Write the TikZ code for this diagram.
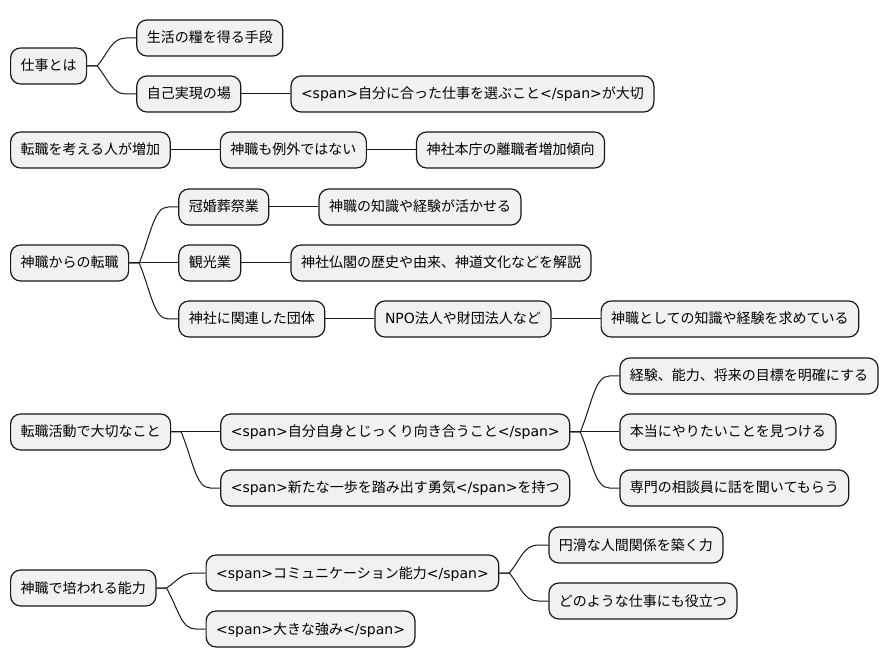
\documentclass[tikz,border=0pt]{standalone}
\usepackage{fontspec}
\setmainfont{Noto Sans CJK JP}
\newfontfamily\lat{DejaVu Sans}
\usetikzlibrary{calc}
\definecolor{boxfill}{HTML}{F1F1F1}
\definecolor{boxline}{HTML}{181818}
\newcommand\Lt[1]{{\lat #1}}
\newcommand\conn[2]{\draw[conn] let \p1=($(#1.east)+(10,0)$), \p2=($(#2.west)+(-10,0)$) in (#1.east) -- (\p1) .. controls ({\x1+0.4*(\x2-\x1)},{\y1+0.5*(\y2-\y1)}) and ({\x1+0.5*(\x2-\x1)},\y2) .. (\p2) -- (#2.west);}
\newcommand\sconn[2]{\draw[conn] (#1.east) -- (#2.west);}
\begin{document}
\begin{tikzpicture}[x=1pt,y=-1pt,
  box/.style={draw=boxline, fill=boxfill, line width=1.2pt, rounded corners=10pt,
    minimum height=36pt, inner xsep=10pt, inner ysep=0pt, text height=12pt, text depth=2pt,
    anchor=west, font=\fontsize{14}{16}\selectfont},
  child/.style={box, xshift=49pt},
  conn/.style={draw=boxline, line width=1pt}]
\fill[white] (0,0) rectangle (887,668);
\useasboundingbox (0,0) rectangle (887,668);

% group 1
\node[box] (a1) at (10,66) {仕事とは};
\node[child] (a2) at (a1.east |- 0,38) {生活の糧を得る手段};
\node[child] (a3) at (a1.east |- 0,94) {自己実現の場};
\node[child] (a4) at (a3.east) {\Lt{<span>}自分に合った仕事を選ぶこと\Lt{</span>}が大切};

% group 2
\node[box] (b1) at (10,150) {転職を考える人が増加};
\node[child] (b2) at (b1.east) {神職も例外ではない};
\node[child] (b3) at (b2.east) {神社本庁の離職者増加傾向};

% group 3
\node[box] (c1) at (10,263) {神職からの転職};
\node[child] (c2) at (c1.east |- 0,207) {冠婚葬祭業};
\node[child] (c3) at (c2.east) {神職の知識や経験が活かせる};
\node[child] (c4) at (c1.east) {観光業};
\node[child] (c5) at (c4.east) {神社仏閣の歴史や由来、神道文化などを解説};
\node[child] (c6) at (c1.east |- 0,319) {神社に関連した団体};
\node[child] (c7) at (c6.east) {\Lt{NPO}法人や財団法人など};
\node[child] (c8) at (c7.east) {神職としての知識や経験を求めている};

% group 4
\node[box] (d1) at (10,432) {転職活動で大切なこと};
\node[child] (d2) at (d1.east) {\Lt{<span>}自分自身とじっくり向き合うこと\Lt{</span>}};
\node[child] (d3) at (d1.east |- 0,488) {\Lt{<span>}新たな一歩を踏み出す勇気\Lt{</span>}を持つ};
\node[child] (d4) at (d2.east |- 0,376) {経験、能力、将来の目標を明確にする};
\node[child] (d5) at (d2.east) {本当にやりたいことを見つける};
\node[child] (d6) at (d2.east |- 0,488) {専門の相談員に話を聞いてもらう};

% group 5
\node[box] (e1) at (10,588) {神職で培われる能力};
\node[child] (e2) at (e1.east |- 0,573) {\Lt{<span>}コミュニケーション能力\Lt{</span>}};
\node[child] (e3) at (e1.east |- 0,629) {\Lt{<span>}大きな強み\Lt{</span>}};
\node[child] (e4) at (e2.east |- 0,545) {円滑な人間関係を築く力};
\node[child] (e5) at (e2.east |- 0,601) {どのような仕事にも役立つ};

\conn{a1}{a2}\conn{a1}{a3}\sconn{a3}{a4}
\sconn{b1}{b2}\sconn{b2}{b3}
\conn{c1}{c2}\sconn{c2}{c3}\sconn{c1}{c4}\sconn{c4}{c5}\conn{c1}{c6}\sconn{c6}{c7}\sconn{c7}{c8}
\sconn{d1}{d2}\conn{d1}{d3}\conn{d2}{d4}\sconn{d2}{d5}\conn{d2}{d6}
\conn{e1}{e2}\conn{e1}{e3}\conn{e2}{e4}\conn{e2}{e5}
\end{tikzpicture}
\end{document}
